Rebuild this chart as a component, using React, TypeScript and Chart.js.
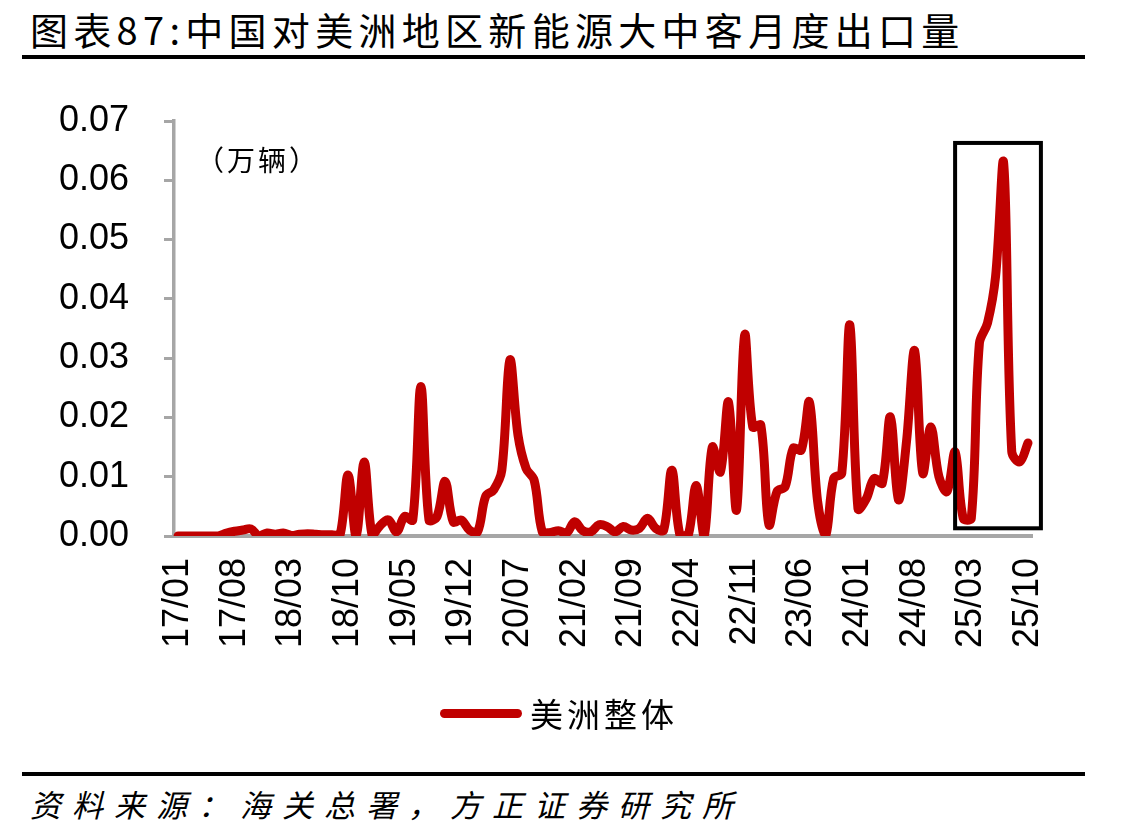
import React, { useEffect, useRef } from 'react';
import { Chart, registerables } from 'chart.js';

Chart.register(...registerables);

// Monthly categories, 2017/01 – 2025/10
const MONTHS = [
  '17/01', '17/02', '17/03', '17/04', '17/05', '17/06', '17/07', '17/08', '17/09', '17/10', '17/11', '17/12',
  '18/01', '18/02', '18/03', '18/04', '18/05', '18/06', '18/07', '18/08', '18/09', '18/10', '18/11', '18/12',
  '19/01', '19/02', '19/03', '19/04', '19/05', '19/06', '19/07', '19/08', '19/09', '19/10', '19/11', '19/12',
  '20/01', '20/02', '20/03', '20/04', '20/05', '20/06', '20/07', '20/08', '20/09', '20/10', '20/11', '20/12',
  '21/01', '21/02', '21/03', '21/04', '21/05', '21/06', '21/07', '21/08', '21/09', '21/10', '21/11', '21/12',
  '22/01', '22/02', '22/03', '22/04', '22/05', '22/06', '22/07', '22/08', '22/09', '22/10', '22/11', '22/12',
  '23/01', '23/02', '23/03', '23/04', '23/05', '23/06', '23/07', '23/08', '23/09', '23/10', '23/11', '23/12',
  '24/01', '24/02', '24/03', '24/04', '24/05', '24/06', '24/07', '24/08', '24/09', '24/10', '24/11', '24/12',
  '25/01', '25/02', '25/03', '25/04', '25/05', '25/06', '25/07', '25/08', '25/09', '25/10',
];

// Labels shown on the category axis (every 7th month)
const TICK_LABELS = [
  '17/01', '17/08', '18/03', '18/10', '19/05', '19/12', '20/07', '21/02',
  '21/09', '22/04', '22/11', '23/06', '24/01', '24/08', '25/03', '25/10',
];

// Export volume to the Americas, 万辆
const AMERICAS_2017 = [0, 0, 0, 0, 0, 0, 0.0005, 0.0008, 0.001, 0.0012, 0.0, 0.0005];
const AMERICAS_2018 = [0.0003, 0.0005, 0.0001, 0.0003, 0.0004, 0.0003, 0.0002, 0.0002, 0.0001, 0.0103, 0.0, 0.0125];
const AMERICAS_2019 = [0.0, 0.0018, 0.0027, 0.0007, 0.0033, 0.0027, 0.0252, 0.0027, 0.0033, 0.0092, 0.0024, 0.0027];
const AMERICAS_2020 = [0.001, 0.0007, 0.0067, 0.0078, 0.0111, 0.0297, 0.017, 0.0114, 0.0094, 0.0007, 0.0006, 0.0009];
const AMERICAS_2021 = [0.0005, 0.0024, 0.0009, 0.0007, 0.0019, 0.0016, 0.0007, 0.0016, 0.001, 0.0013, 0.003, 0.0013];
const AMERICAS_2022 = [0.001, 0.0111, 0.0002, 0.0, 0.0085, 0.0, 0.015, 0.0108, 0.0226, 0.0044, 0.0339, 0.0184];
const AMERICAS_2023 = [0.0187, 0.0019, 0.0075, 0.0083, 0.0148, 0.0145, 0.0226, 0.006, 0.0, 0.0097, 0.0106, 0.0356];
const AMERICAS_2024 = [0.0046, 0.0062, 0.0097, 0.0089, 0.0201, 0.0061, 0.016, 0.0313, 0.0106, 0.0184, 0.01, 0.0075];
const AMERICAS_2025 = [0.0142, 0.003, 0.003, 0.0325, 0.0359, 0.0438, 0.0629, 0.0142, 0.0125, 0.0157];

const AMERICAS_TOTAL = [
  ...AMERICAS_2017, ...AMERICAS_2018, ...AMERICAS_2019, ...AMERICAS_2020, ...AMERICAS_2021,
  ...AMERICAS_2022, ...AMERICAS_2023, ...AMERICAS_2024, ...AMERICAS_2025,
];

const SERIES_NAME = '美洲整体';
const Y_MIN = 0;
const Y_MAX = 0.07;
const Y_STEP = 0.01;

// Box around the 2025 months
const HIGHLIGHT_FROM = '25/01';
const HIGHLIGHT_TOP = 0.0663;
const HIGHLIGHT_BOTTOM = 0.0013;

const RED = '#C00000';
const AXIS_GRAY = '#A6A6A6';
const LATIN = '"Liberation Sans", Arial, sans-serif';
const CJK = '"Noto Sans CJK SC", "Noto Sans", sans-serif';

const highlightBox = {
  id: 'highlightBox',
  afterDatasetsDraw(chart: any) {
    const { ctx } = chart;
    const xs = chart.scales.x;
    const ys = chart.scales.y;
    const i0 = MONTHS.indexOf(HIGHLIGHT_FROM);
    const step = xs.getPixelForValue(1) - xs.getPixelForValue(0);
    const left = xs.getPixelForValue(i0);
    const right = xs.getPixelForValue(MONTHS.length - 1) + step * 1.6;
    const top = ys.getPixelForValue(HIGHLIGHT_TOP);
    const bottom = ys.getPixelForValue(HIGHLIGHT_BOTTOM);
    ctx.save();
    ctx.strokeStyle = '#000';
    ctx.lineWidth = 4;
    ctx.strokeRect(left, top, right - left, bottom - top);
    ctx.restore();
  },
};

function ExportChart() {
  const ref = useRef<HTMLCanvasElement | null>(null);

  useEffect(() => {
    if (!ref.current) return;
    const chart = new Chart(ref.current, {
      type: 'line',
      data: {
        labels: MONTHS,
        datasets: [
          {
            label: SERIES_NAME,
            data: AMERICAS_TOTAL,
            borderColor: RED,
            backgroundColor: RED,
            borderWidth: 9,
            borderCapStyle: 'round',
            borderJoinStyle: 'round',
            pointRadius: 0,
            pointHoverRadius: 0,
            tension: 0.35,
            fill: false,
          },
        ],
      },
      options: {
        animation: false,
        responsive: false,
        maintainAspectRatio: false,
        devicePixelRatio: 1,
        layout: { padding: { top: 121, right: 98, left: 0, bottom: 0 } },
        plugins: {
          legend: { display: false },
          tooltip: { enabled: false },
        },
        scales: {
          x: {
            type: 'category',
            offset: true,
            afterFit(scale: any) {
              scale.height = 164;
            },
            grid: { display: false, drawTicks: false },
            border: { display: true, color: AXIS_GRAY, width: 4 },
            ticks: {
              autoSkip: false,
              minRotation: 90,
              maxRotation: 90,
              padding: 22,
              color: '#000',
              font: { family: LATIN, size: 36 },
              callback(_v: any, index: number) {
                const l = MONTHS[index];
                return TICK_LABELS.includes(l) ? l : '';
              },
            },
          },
          y: {
            min: Y_MIN,
            max: Y_MAX,
            afterFit(scale: any) {
              scale.width = 174;
            },
            grid: {
              display: true,
              drawOnChartArea: false,
              drawTicks: true,
              tickLength: 10,
              color: AXIS_GRAY,
              lineWidth: 3,
            },
            border: { display: true, color: AXIS_GRAY, width: 3.5 },
            ticks: {
              stepSize: Y_STEP,
              padding: 35,
              color: '#000',
              font: { family: LATIN, size: 36 },
              callback(v: any) {
                return Number(v).toFixed(2);
              },
            },
          },
        },
      },
      plugins: [highlightBox],
    });
    return () => chart.destroy();
  }, []);

  return (
    <canvas
      ref={ref}
      width={1130}
      height={700}
      style={{ position: 'absolute', left: 0, top: 0, width: 1130, height: 700 }}
    />
  );
}

export default function App() {
  return (
    <div
      style={{
        position: 'absolute',
        left: 0,
        top: 0,
        width: 1130,
        height: 840,
        background: '#fff',
        overflow: 'hidden',
      }}
    >
      <div
        style={{
          position: 'absolute',
          left: 30,
          top: 4,
          fontFamily: CJK,
          fontSize: 38,
          lineHeight: '50px',
          letterSpacing: 5.3,
          color: '#000',
          whiteSpace: 'nowrap',
        }}
      >
        图表87:中国对美洲地区新能源大中客月度出口量
      </div>
      <div style={{ position: 'absolute', left: 22, top: 55, width: 1063, height: 4, background: '#000' }} />

      <ExportChart />

      <div
        style={{
          position: 'absolute',
          left: 196,
          top: 140,
          fontFamily: CJK,
          fontSize: 28,
          lineHeight: '38px',
          letterSpacing: 3,
          color: '#000',
          whiteSpace: 'nowrap',
        }}
      >
        （万辆）
      </div>

      <div
        style={{
          position: 'absolute',
          left: 440,
          top: 692,
          height: 42,
          display: 'flex',
          alignItems: 'center',
          whiteSpace: 'nowrap',
        }}
      >
        <span
          style={{
            display: 'inline-block',
            width: 82,
            height: 9,
            borderRadius: 5,
            background: RED,
            marginRight: 8,
          }}
        />
        <span style={{ fontFamily: CJK, fontSize: 33, lineHeight: '42px', letterSpacing: 4, color: '#000' }}>
          {SERIES_NAME}
        </span>
      </div>

      <div style={{ position: 'absolute', left: 22, top: 772, width: 1063, height: 4, background: '#000' }} />
      <div
        style={{
          position: 'absolute',
          left: 30,
          top: 782,
          fontFamily: CJK,
          fontSize: 31,
          fontStyle: 'italic',
          lineHeight: '44px',
          letterSpacing: 11,
          color: '#000',
          whiteSpace: 'nowrap',
        }}
      >
        资料来源：海关总署，方正证券研究所
      </div>
    </div>
  );
}
